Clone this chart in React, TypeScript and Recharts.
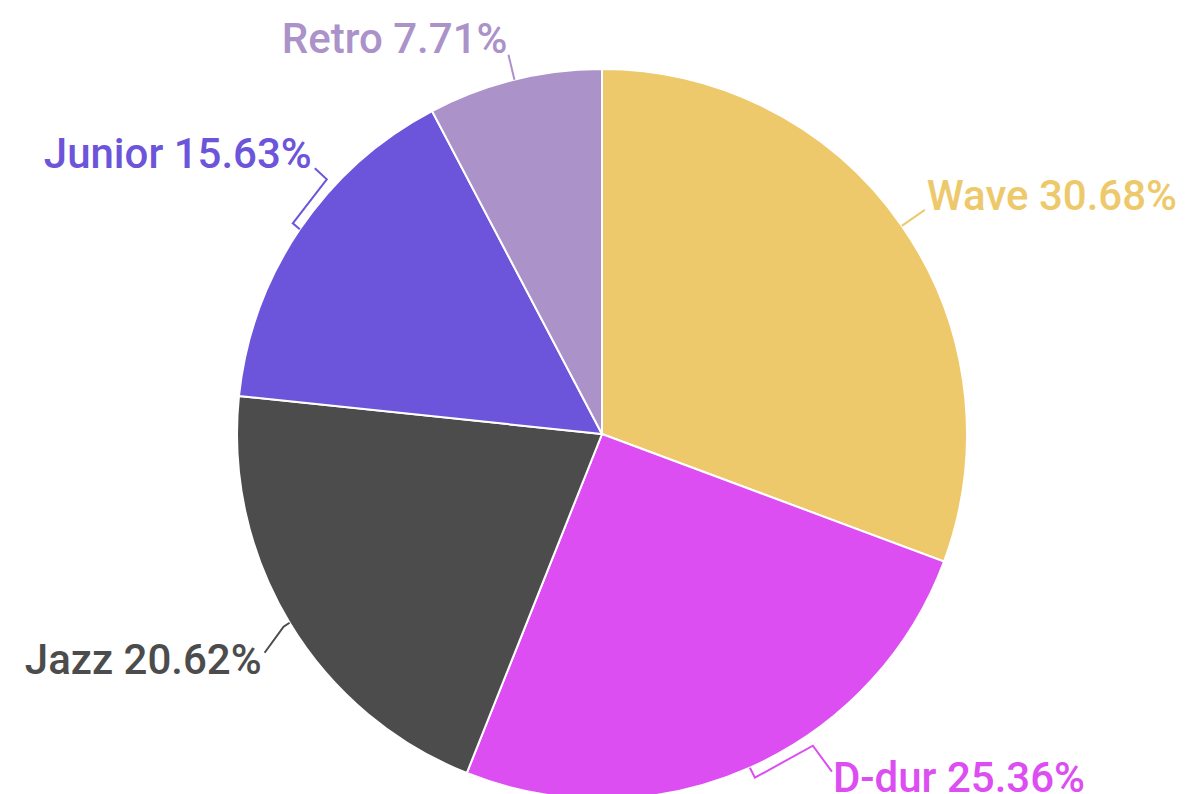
import React from "react";
import { PieChart, Pie, Cell } from "recharts";

const categories = ["Wave", "D-dur", "Jazz", "Junior", "Retro"];
const shares = [30.68, 25.36, 20.62, 15.63, 7.71];
const colors = ["#EDC96B", "#DC4DF2", "#4C4C4C", "#6C55DA", "#AB92C8"];

const data = categories.map((name, i) => ({ name, value: shares[i] }));

// label layout nudges (relative to the slice's outer edge at its mid angle)
const LABEL_LAYOUT: Record<string, { pts: [number, number][]; text: [number, number]; anchor: "start" | "end" }> = {
  Wave: { pts: [[0, 0], [23, -16]], text: [25, -16], anchor: "start" },
  "D-dur": { pts: [[0, 0], [5, 10], [63, -22], [82, 4]], text: [83, 24], anchor: "start" },
  Jazz: { pts: [[0, 0], [-6, 4], [-25, 30]], text: [-28, 51], anchor: "end" },
  Junior: { pts: [[0, 0], [-7, -6], [27, -50], [15, -61]], text: [12, -61], anchor: "end" },
  Retro: { pts: [[0, 0], [-6, -25]], text: [-7, -27], anchor: "end" },
};

const RAD = Math.PI / 180;

const renderLabel = (props: any) => {
  const { cx, cy, midAngle, outerRadius, name, value, index } = props;
  const ex = cx + outerRadius * Math.cos(-midAngle * RAD);
  const ey = cy + outerRadius * Math.sin(-midAngle * RAD);
  const lay = LABEL_LAYOUT[name];
  const color = colors[index];
  const pts = lay.pts.map(([dx, dy]) => `${ex + dx},${ey + dy}`).join(" ");
  return (
    <g key={`lbl-${name}`}>
      <polyline points={pts} fill="none" stroke={color} strokeWidth={2} />
      <text
        x={ex + lay.text[0]}
        y={ey + lay.text[1]}
        textAnchor={lay.anchor}
        fill={color}
        fontFamily="Roboto, sans-serif"
        fontWeight={500}
        fontSize={42}
      >
        {`${name} ${Number(value).toFixed(2)}%`}
      </text>
    </g>
  );
};

export default function App() {
  return (
    <div style={{ position: "absolute", left: 0, top: 0, width: 1188, height: 794, background: "#fff" }}>
      <PieChart width={1188} height={794} margin={{ top: 0, right: 0, bottom: 0, left: 0 }}>
        <Pie
          data={data}
          dataKey="value"
          nameKey="name"
          cx={602}
          cy={434}
          outerRadius={365}
          startAngle={90}
          endAngle={-270}
          stroke="#ffffff"
          strokeWidth={2}
          label={renderLabel}
          labelLine={false}
          isAnimationActive={false}
        >
          {data.map((d, i) => (
            <Cell key={d.name} fill={colors[i]} />
          ))}
        </Pie>
      </PieChart>
    </div>
  );
}
